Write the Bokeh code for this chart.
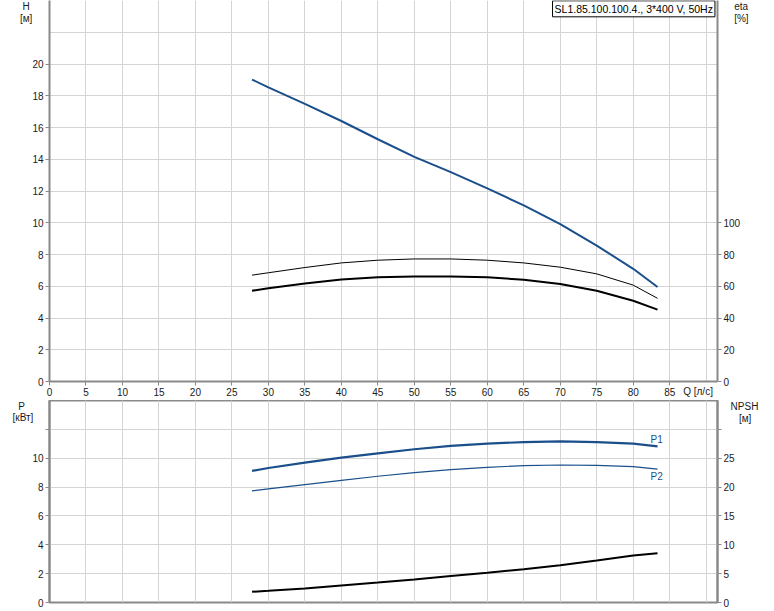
from bokeh.plotting import figure
from bokeh.models import Range1d, LinearAxis, FixedTicker, Label
from bokeh.layouts import column
from bokeh.embed import file_html
from bokeh.resources import INLINE

# ---- data ----
q = [27.76, 30, 35, 40, 45, 50, 55, 60, 65, 70, 75, 80, 83.33]
head_m = [19.02, 18.53, 17.49, 16.41, 15.26, 14.15, 13.19, 12.17, 11.09, 9.92, 8.56, 7.10, 5.95]
eta_pump = [67.0, 68.5, 71.8, 74.7, 76.4, 77.2, 77.2, 76.4, 74.7, 72.0, 67.8, 60.7, 52.4]
eta_total = [57.2, 58.7, 61.8, 64.3, 65.6, 66.2, 66.2, 65.6, 64.1, 61.4, 57.2, 50.9, 45.3]
p1_kw = [9.12, 9.32, 9.69, 10.04, 10.34, 10.62, 10.85, 11.01, 11.12, 11.17, 11.12, 11.01, 10.82]
p2_kw = [7.73, 7.87, 8.17, 8.47, 8.75, 9.00, 9.21, 9.37, 9.49, 9.53, 9.51, 9.42, 9.25]
npsh_m = [1.86, 2.03, 2.43, 2.95, 3.47, 4.00, 4.58, 5.15, 5.78, 6.47, 7.28, 8.14, 8.55]

q_ticks = list(range(0, 90, 5))
q_grid = list(range(0, 95, 5))
h_ticks = list(range(0, 22, 2))
h_grid = list(range(0, 24, 2))
eta_ticks = list(range(0, 120, 20))
p_ticks = list(range(0, 14, 2))
p_grid = list(range(0, 14, 2))
npsh_ticks = list(range(0, 30, 5))
title_text = "SL1.85.100.100.4., 3*400 V, 50Hz"

# ---- styles ----
BLUE = "#1b4f8c"
AX = "#8a8a8a"
GRID = "#d4d4d4"
FONT = "Liberation Sans"
FS = "10px"
TXT = "#1a1a1a"
NB = "\u00a0"

XMAX = 91.55
HMAX = 24.0
PMAX = 14.0


def style_axis(ax, label=None, standoff=5, line_height=1.2):
    ax.axis_line_color = AX
    ax.axis_line_width = 2
    ax.major_tick_line_color = AX
    ax.major_tick_line_width = 1
    ax.major_tick_out = 4
    ax.major_tick_in = 0
    ax.minor_tick_line_color = None
    ax.major_label_text_font = FONT
    ax.major_label_text_font_size = FS
    ax.major_label_text_color = TXT
    ax.major_label_standoff = 2
    if label is not None:
        ax.axis_label = label
        ax.axis_label_align = "end"
        ax.axis_label_orientation = "horizontal"
        ax.axis_label_standoff = standoff
        ax.axis_label_text_font = FONT
        ax.axis_label_text_font_size = FS
        ax.axis_label_text_font_style = "normal"
        ax.axis_label_text_color = TXT
        ax.axis_label_text_line_height = line_height


def corner(unit_name, unit):
    # two padding lines above so that the name/unit pair sits below the frame corner
    return NB + "\n" + NB + "\n" + unit_name + "\n" + unit


# ---------- top figure: H / eta ----------
p = figure(frame_width=668, frame_height=381, x_range=Range1d(0, XMAX), y_range=Range1d(0, HMAX),
           output_backend="svg", toolbar_location=None,
           min_border_left=49, min_border_right=50, min_border_top=0, min_border_bottom=19)
p.outline_line_color = None
p.background_fill_color = "white"
p.border_fill_color = "white"
p.extra_y_ranges = {"eta": Range1d(0, HMAX * 10)}
p.add_layout(LinearAxis(y_range_name="eta"), "right")
p.xaxis.ticker = FixedTicker(ticks=q_ticks)
p.yaxis[0].ticker = FixedTicker(ticks=h_ticks)
p.yaxis[1].ticker = FixedTicker(ticks=eta_ticks)
style_axis(p.xaxis[0], "Q [л/с]" + NB * 14, -13)
style_axis(p.yaxis[0], corner("H" + NB, "[м]"), -3, 1.1)
style_axis(p.yaxis[1], corner("eta", "[%]"), -9, 1.1)
p.xgrid.ticker = FixedTicker(ticks=q_grid)
p.ygrid.ticker = FixedTicker(ticks=h_grid)
p.grid.grid_line_color = GRID
p.grid.grid_line_width = 1

p.line(q, head_m, line_color=BLUE, line_width=2)
p.line(q, eta_pump, line_color="black", line_width=1, y_range_name="eta")
p.line(q, eta_total, line_color="black", line_width=2, y_range_name="eta")

p.add_layout(Label(x=XMAX - 0.35, y=HMAX - 0.02, text=title_text, text_align="right",
                   text_baseline="top", text_font=FONT, text_font_size="10.5px", text_color="black",
                   border_line_color="black", border_line_width=1, background_fill_color="white",
                   padding=2))

# ---------- bottom figure: P / NPSH ----------
b = figure(frame_width=668, frame_height=202, x_range=p.x_range, y_range=Range1d(0, PMAX),
           output_backend="svg", toolbar_location=None,
           min_border_left=49, min_border_right=50, min_border_top=0, min_border_bottom=8)
b.outline_line_color = AX
b.outline_line_width = 2
b.background_fill_color = "white"
b.border_fill_color = "white"
b.xaxis.visible = False
b.extra_y_ranges = {"npsh": Range1d(0, PMAX * 2.5)}
b.add_layout(LinearAxis(y_range_name="npsh"), "right")
b.yaxis[0].ticker = FixedTicker(ticks=p_ticks)
b.yaxis[0].major_label_overrides = {12: ""}
b.yaxis[1].ticker = FixedTicker(ticks=npsh_ticks + [30])
b.yaxis[1].major_label_overrides = {30: ""}
style_axis(b.yaxis[0], corner("P" + NB * 3, "[кВт]"), -4, 1.0)
style_axis(b.yaxis[1], corner("NPSH", NB * 3 + "[м]"), -7, 1.1)
b.xgrid.ticker = FixedTicker(ticks=q_grid)
b.ygrid.ticker = FixedTicker(ticks=p_grid)
b.grid.grid_line_color = GRID
b.grid.grid_line_width = 1

b.line(q, p1_kw, line_color=BLUE, line_width=2.2)
b.line(q, p2_kw, line_color=BLUE, line_width=1.2)
b.line(q, npsh_m, line_color="black", line_width=2, y_range_name="npsh")

for name, yv in (("P1", 11.3), ("P2", 8.70)):
    b.add_layout(Label(x=83.2, y=yv, text=name, text_align="center", text_baseline="middle",
                       text_font=FONT, text_font_size=FS, text_color=BLUE))

layout = column(p, b, spacing=0)
open("out.html", "w").write(file_html(layout, INLINE))
